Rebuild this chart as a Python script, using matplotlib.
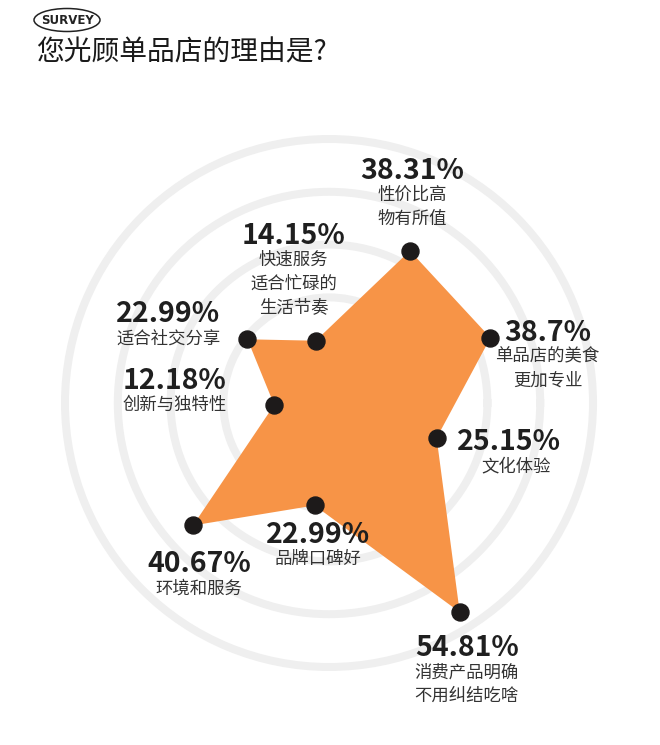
import numpy as np
import matplotlib
matplotlib.use("Agg")
import matplotlib.pyplot as plt
from matplotlib.patches import Ellipse

plt.rcParams['font.family'] = ['Noto Sans CJK SC', 'DejaVu Sans']

# ---- data ----
categories = ['快速服务\n适合忙碌的\n生活节奏', '性价比高\n物有所值', '单品店的美食\n更加专业',
              '文化体验', '消费产品明确\n不用纠结吃啥', '品牌口碑好', '环境和服务',
              '创新与独特性', '适合社交分享']
values = [14.15, 38.31, 38.7, 25.15, 54.81, 22.99, 40.67, 12.18, 22.99]
value_labels = ['14.15%', '38.31%', '38.7%', '25.15%', '54.81%', '22.99%', '40.67%', '12.18%', '22.99%']
title = '您光顾单品店的理由是?'
badge = 'SURVEY'

# ---- layout (label offsets in pixels: dx right, dy down, relative to the point) ----
label_offsets = [(-22, -105), (2, -80), (57, -5), (72, 4), (7, 36),
                 (3, 30), (6, 39), (-100, -24), (-79, -25)]
desc_dx_extra = [0, 0, 0, 7, 0, 0, 0, 0, 0]

W, H, DPI = 660, 745, 100
PX = 72.0 / DPI
fig = plt.figure(figsize=(W / DPI, H / DPI), dpi=DPI, facecolor='white')

cx, cy = 329, 403
r_max = 62.0
r_px = 279
ax = fig.add_axes([(cx - r_px) / W, (H - cy - r_px) / H, 2 * r_px / W, 2 * r_px / H],
                  projection='polar')
ax.set_facecolor('none')
ax.set_ylim(0, r_max)

n = len(values)
start_deg = 102
theta = np.deg2rad(start_deg - 360.0 / n * np.arange(n))

# concentric rings as radial gridlines
ring_outer = r_max * 264 / r_px
rings = np.linspace(ring_outer / 5, ring_outer, 5)
ax.set_yticks(rings)
ax.set_yticklabels([])
ax.set_xticks([])
ax.yaxis.grid(True, color='#efefef', lw=8 * PX)
ax.xaxis.grid(False)
ax.spines['polar'].set_visible(False)
ax.set_axisbelow(True)

th_c = np.append(theta, theta[0])
v_c = np.append(values, values[0])
ax.fill(th_c, v_c, color='#F79447', lw=0, zorder=2)
ax.scatter(theta, values, s=(17 * PX) ** 2, color='#1d1a1a', zorder=4, clip_on=False)

for i in range(n):
    dx, dy = label_offsets[i]
    ax.annotate(value_labels[i], xy=(theta[i], values[i]), xytext=(dx * PX, -dy * PX),
                textcoords='offset points', ha='center', va='center',
                fontsize=20.5, fontweight='bold', color='#1f1f1f', zorder=5,
                annotation_clip=False)
    ax.annotate(categories[i], xy=(theta[i], values[i]),
                xytext=((dx + desc_dx_extra[i]) * PX, -(dy + 15) * PX),
                textcoords='offset points', ha='center', va='top', multialignment='center',
                fontsize=12.5, color='#333333', linespacing=1.42, zorder=5,
                annotation_clip=False)

fig.text(36 / W, 1 - 52 / H, title, ha='left', va='center', fontsize=20, color='#1a1a1a')
fig.add_artist(Ellipse((67 / W, 1 - 20 / H), 66 / W, 23 / H, transform=fig.transFigure,
                       fill=False, ec='#222222', lw=1.1))
fig.text(67 / W, 1 - 20 / H, badge, ha='center', va='center', fontsize=8.5,
         fontweight='bold', color='#222222', family=['DejaVu Sans'])

fig.savefig('out.png', dpi=DPI, facecolor='white')
